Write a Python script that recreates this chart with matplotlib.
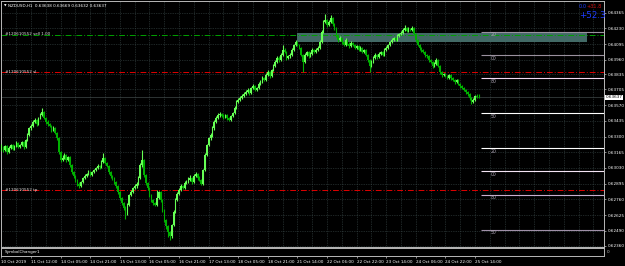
import numpy as np
import matplotlib
matplotlib.use("Agg")
import matplotlib.pyplot as plt
from matplotlib.patches import Rectangle

# NZDUSD H1 candles, prices in points (1 point = 0.00001)
first_open = 63190
close_pts = [
    63210, 63184, 63218, 63167, 63201, 63227, 63193, 63218, 63244, 63210,
    63227, 63253, 63210, 63270, 63313, 63373, 63390, 63425, 63442, 63408,
    63459, 63485, 63511, 63459, 63425, 63408, 63390, 63356, 63373, 63330,
    63287, 63167, 63098, 63115, 63141, 63098, 63124, 63055, 62995, 62960,
    62926, 62892, 62874, 62909, 62943, 62960, 62978, 62995, 62969, 62995,
    63012, 63029, 63046, 63038, 63081, 63115, 63072, 63046, 62995, 62960,
    62943, 62909, 62874, 62823, 62771, 62728, 62685, 62634, 62711, 62797,
    62823, 62857, 62874, 62892, 62943, 63055, 63098, 62969, 62900, 62857,
    62797, 62754, 62728, 62711, 62771, 62823, 62754, 62668, 62582, 62530,
    62479, 62444, 62539, 62651, 62754, 62806, 62840, 62874, 62857, 62900,
    62909, 62926, 62943, 62909, 62960, 62978, 62943, 62926, 62892, 63012,
    63141, 63227, 63287, 63313, 63373, 63425, 63459, 63485, 63494, 63476,
    63468, 63485, 63459, 63442, 63476, 63502, 63545, 63597, 63614, 63631,
    63648, 63666, 63683, 63700, 63674, 63717, 63734, 63700, 63717, 63752,
    63769, 63803, 63786, 63829, 63855, 63820, 63872, 63906, 63941, 63975,
    63958, 64001, 64044, 64027, 63975, 63992, 64001, 64044, 64087, 64113,
    64087, 64061, 64001, 63941, 64001, 64027, 63992, 64010, 64044, 64027,
    64044, 64061, 64113, 64199, 64285, 64302, 64259, 64285, 64319, 64268,
    64233, 64173, 64130, 64147, 64113, 64087, 64130, 64096, 64078, 64104,
    64087, 64061, 64078, 64044, 64061, 64027, 64044, 64001, 63958, 63906,
    63941, 63975, 64001, 63984, 64010, 64027, 64001, 64044, 64061, 64087,
    64113, 64130, 64147, 64130, 64164, 64182, 64190, 64216, 64233, 64207,
    64225, 64216, 64233, 64182, 64130, 64087, 64061, 64044, 64027, 64001,
    63992, 63958, 63941, 63906, 63924, 63958, 63906, 63855, 63829, 63838,
    63820, 63803, 63829, 63803, 63786, 63769, 63786, 63752, 63734, 63717,
    63700, 63683, 63666, 63631, 63597, 63614, 63648, 63638, 63637]
high_pts = [
    63235, 63222, 63230, 63226, 63215, 63240, 63236, 63228, 63262, 63250,
    63238, 63266, 63258, 63280, 63330, 63385, 63410, 63440, 63460, 63450,
    63470, 63500, 63545, 63520, 63468, 63440, 63420, 63398, 63388, 63380,
    63338, 63295, 63175, 63140, 63160, 63150, 63135, 63130, 63062, 63005,
    62970, 62935, 62905, 62920, 62955, 62975, 62990, 63010, 63005, 63008,
    63025, 63040, 63060, 63058, 63095, 63160, 63125, 63080, 63052, 63000,
    62970, 62950, 62915, 62880, 62830, 62780, 62735, 62700, 62725, 62810,
    62840, 62870, 62890, 62905, 62960, 63070, 63184, 63105, 62975, 62910,
    62865, 62805, 62765, 62740, 62840, 62835, 62830, 62760, 62675, 62595,
    62540, 62490, 62550, 62665, 62770, 62820, 62855, 62890, 62885, 62915,
    62925, 62950, 62970, 62955, 62975, 62995, 62985, 62960, 62935, 63025,
    63155, 63240, 63300, 63330, 63390, 63440, 63475, 63500, 63510, 63505,
    63490, 63498, 63492, 63470, 63488, 63515, 63560, 63612, 63630, 63645,
    63665, 63680, 63700, 63715, 63710, 63730, 63750, 63745, 63730, 63765,
    63785, 63820, 63815, 63845, 63870, 63865, 63885, 63920, 63960, 63990,
    63995, 64015, 64087, 64060, 64035, 64005, 64015, 64058, 64100, 64130,
    64125, 64095, 64070, 64010, 64015, 64040, 64035, 64025, 64058, 64055,
    64058, 64075, 64130, 64215, 64300, 64354, 64315, 64300, 64345, 64325,
    64280, 64240, 64180, 64165, 64160, 64125, 64145, 64140, 64110, 64118,
    64115, 64095, 64090, 64085, 64075, 64070, 64055, 64050, 64010, 63965,
    63955, 63990, 64015, 64012, 64025, 64040, 64035, 64060, 64075, 64100,
    64125, 64145, 64160, 64158, 64178, 64195, 64205, 64230, 64259, 64245,
    64240, 64235, 64248, 64240, 64190, 64138, 64095, 64070, 64055, 64035,
    64010, 64000, 63970, 63950, 63940, 63975, 63965, 63915, 63865, 63850,
    63848, 63830, 63840, 63835, 63812, 63795, 63798, 63795, 63760, 63742,
    63725, 63710, 63692, 63675, 63640, 63628, 63660, 63670, 63669]
low_pts = [
    63175, 63170, 63178, 63150, 63160, 63195, 63185, 63186, 63210, 63200,
    63198, 63220, 63195, 63205, 63262, 63305, 63360, 63382, 63415, 63395,
    63400, 63450, 63478, 63450, 63410, 63395, 63380, 63340, 63345, 63318,
    63270, 63150, 63080, 63090, 63105, 63085, 63090, 63040, 62980, 62945,
    62910, 62875, 62860, 62865, 62900, 62935, 62950, 62970, 62960, 62960,
    62985, 63002, 63020, 63025, 63030, 63075, 63060, 63035, 62980, 62945,
    62930, 62895, 62860, 62805, 62755, 62710, 62665, 62590, 62625, 62700,
    62785, 62815, 62845, 62860, 62885, 62935, 63040, 62955, 62880, 62840,
    62780, 62740, 62715, 62700, 62705, 62760, 62740, 62650, 62565, 62505,
    62440, 62410, 62430, 62530, 62640, 62745, 62795, 62830, 62845, 62850,
    62890, 62900, 62915, 62895, 62900, 62950, 62930, 62915, 62880, 62885,
    63005, 63130, 63215, 63270, 63300, 63360, 63415, 63450, 63470, 63465,
    63455, 63460, 63445, 63430, 63435, 63468, 63495, 63535, 63585, 63605,
    63620, 63640, 63655, 63675, 63660, 63665, 63705, 63690, 63690, 63710,
    63740, 63760, 63775, 63780, 63820, 63805, 63810, 63862, 63895, 63930,
    63945, 63950, 63990, 64015, 63960, 63965, 63980, 63995, 64035, 64080,
    64075, 64050, 63990, 63855, 63930, 63990, 63980, 63985, 64000, 64015,
    64020, 64035, 64050, 64105, 64190, 64275, 64245, 64250, 64275, 64255,
    64220, 64160, 64115, 64120, 64100, 64075, 64080, 64085, 64065, 64070,
    64075, 64050, 64050, 64035, 64035, 64015, 64020, 63990, 63945, 63855,
    63895, 63930, 63965, 63970, 63975, 64000, 63990, 63995, 64035, 64055,
    64080, 64105, 64120, 64120, 64125, 64155, 64175, 64182, 64208, 64198,
    64198, 64205, 64208, 64170, 64115, 64075, 64048, 64030, 64015, 63988,
    63980, 63945, 63930, 63890, 63895, 63915, 63895, 63840, 63815, 63820,
    63808, 63792, 63795, 63790, 63775, 63755, 63760, 63740, 63720, 63705,
    63688, 63670, 63652, 63618, 63580, 63588, 63605, 63630, 63632]

price_levels = [0.64365, 0.64230, 0.64095, 0.63960, 0.63835, 0.63705, 0.63570,
                0.63435, 0.63300, 0.63165, 0.63030, 0.62895, 0.62760, 0.62625,
                0.62490, 0.62360]
time_labels = ['10 Oct 2019', '11 Oct 12:00', '14 Oct 05:00', '14 Oct 21:00',
               '15 Oct 13:00', '16 Oct 05:00', '16 Oct 21:00', '17 Oct 13:00',
               '18 Oct 05:00', '18 Oct 21:00', '21 Oct 14:00', '22 Oct 06:00',
               '22 Oct 22:00', '23 Oct 14:00', '24 Oct 06:00', '24 Oct 22:00',
               '25 Oct 14:00']
bars_per_label = 16

round_levels = [0.6420, 0.6400, 0.6380, 0.6350, 0.6320, 0.6300, 0.6280, 0.6250]
round_labels = ['20', '00', '80', '50', '20', '00', '80', '50']
round_colors = ['#9a909e', '#9a909e', '#f0d8f0', '#ffffff', '#ffffff', '#f4e4f4', '#c8b0d0', '#a090a8']

sell_price = 0.64177
sl_price = 0.63852
tp_price = 0.62838
bid = 0.63637
zone_top, zone_bottom = 0.64195, 0.64115
zone_start, zone_end = 159.7, 316.5
order_id = '#120610552'

W, H = 625, 266
BG = 'black'
GRID = '#3c4c4c'
FS = 2.95

closes = np.array(close_pts) / 1e5
highs = np.array(high_pts) / 1e5
lows = np.array(low_pts) / 1e5
opens = np.concatenate([[first_open / 1e5], closes[:-1]])
idx = np.arange(len(closes))

fig = plt.figure(figsize=(W / 100, H / 100), dpi=100, facecolor=BG)
ax = fig.add_axes([1 / W, 1 - 247 / H, 603 / W, 246 / H], facecolor=BG)
sub = fig.add_axes([1 / W, 1 - 256 / H, 603 / W, 8 / H], facecolor=BG, sharex=ax)

ax.set_xlim(-0.27, 325.7)
ax.set_ylim(0.62350, 0.64466)

# grid
for b in range(0, 330, 8):
    ax.axvline(b, color=GRID, lw=0.5, ls=(0, (1, 1.5)), zorder=0)
for p in price_levels:
    ax.axhline(p, color=GRID, lw=0.5, ls=(0, (1, 1.5)), zorder=0)

# zone rectangle
ax.add_patch(Rectangle((zone_start, zone_bottom), zone_end - zone_start, zone_top - zone_bottom,
                       facecolor='#426a66', edgecolor='none', zorder=1))

# candles
up = closes >= opens
bull_col = '#66ff55'
bear_col = '#00b000'
cols = np.where(up, bull_col, bear_col)
ax.vlines(idx, lows, highs, colors=cols, lw=0.8, zorder=3)
body_lo = np.minimum(opens, closes)
body_h = np.maximum(np.abs(closes - opens), 0.000015)
ax.bar(idx, body_h, bottom=body_lo, width=0.85, color=cols, edgecolor='none', zorder=3)

# order lines
ax.axhline(sell_price, color='#00a000', lw=0.7, ls=(0, (6, 2, 1, 2)), zorder=2)
ax.axhline(sl_price, color='#e00000', lw=0.7, ls=(0, (6, 2, 1, 2)), zorder=2)
ax.axhline(tp_price, color='#e00000', lw=0.7, ls=(0, (6, 2, 1, 2)), zorder=2)
ax.axhline(bid, color='#404848', lw=0.5, zorder=2)
tr = ax.get_yaxis_transform()
for price, txt in [(sell_price, order_id + ' sell 1.00'), (sl_price, order_id + ' sl'),
                   (tp_price, order_id + ' tp')]:
    ax.text(0.007, price + 0.00002, txt, transform=tr, color='#e0e0e0', fontsize=FS, va='center',
            ha='left', zorder=4)

# round price levels on the right
for p, lab, c in zip(round_levels, round_labels, round_colors):
    ax.hlines(p, 259.2, 325.7, color=c, lw=0.8, zorder=2)
    ax.text(264.5, p - 0.00004, lab, color='#b0a8b8', fontsize=FS + 0.4, va='top', ha='left', zorder=4)

# price axis
ax.yaxis.tick_right()
ax.set_yticks(price_levels)
ax.set_yticklabels([f'{p:.5f}' for p in price_levels])
ax.tick_params(axis='y', length=1.5, width=0.5, color='#c0c0c0', labelsize=FS, labelcolor='white', pad=1)
ax.tick_params(axis='x', bottom=False, labelbottom=False)
ax.text(1.003, bid, f'{bid:.5f}', transform=tr, fontsize=FS, color='black', va='center', ha='left',
        bbox=dict(boxstyle='square,pad=0.15', facecolor='white', edgecolor='none'))

for a in (ax, sub):
    for s in a.spines.values():
        s.set_color('#b8b8b8')
        s.set_linewidth(0.7)

# title and counters
fig.text(4 / W, 1 - 6 / H, '\u25bc', color='white', fontsize=2.4, va='center', ha='left')
fig.text(8 / W, 1 - 6 / H, 'NZDUSD,H1  0.63638 0.63669 0.63632 0.63637', color='white',
         fontsize=FS, va='center', ha='left')
fig.text(579 / W, 1 - 6 / H, '0.0', color='#1e3cff', fontsize=3.6, va='center', ha='left')
fig.text(586 / W, 1 - 6 / H, '+31.8', color='#d01010', fontsize=3.6, va='center', ha='left')
fig.text(579 / W, 1 - 15 / H, '+52.3', color='#1e3cff', fontsize=6.3, va='center', ha='left')

# indicator subwindow and time axis
sub.set_yticks([])
sub.text(0.006, 0.45, 'SymbolChanger1', transform=sub.transAxes, color='white', fontsize=FS,
         va='center', ha='left')
sub.text(1.004, 0.5, '0', transform=sub.transAxes, color='#c0c0c0', fontsize=FS, va='center', ha='left')
tick_pos = [i * bars_per_label for i in range(len(time_labels))]
sub.set_xticks(tick_pos)
sub.set_xticklabels(time_labels)
sub.tick_params(axis='x', length=1.5, width=0.5, color='#c0c0c0', labelsize=FS, labelcolor='white', pad=1.5)
for lab in sub.get_xticklabels():
    lab.set_ha('left')

fig.savefig('out.png', dpi=100, facecolor=BG)
